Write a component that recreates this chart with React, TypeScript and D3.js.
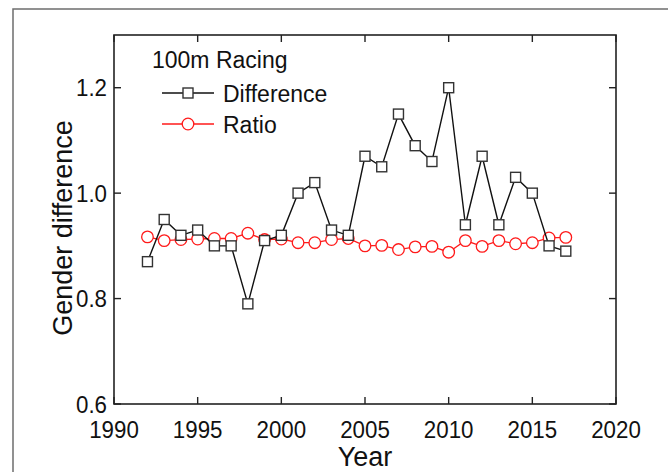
import React from "react";
import * as d3 from "d3";

const years = [1992,1993,1994,1995,1996,1997,1998,1999,2000,2001,2002,2003,2004,2005,2006,2007,2008,2009,2010,2011,2012,2013,2014,2015,2016,2017];
const difference = [0.87,0.95,0.92,0.93,0.90,0.90,0.79,0.91,0.92,1.00,1.02,0.93,0.92,1.07,1.05,1.15,1.09,1.06,1.20,0.94,1.07,0.94,1.03,1.00,0.90,0.89];
const ratio = [0.917,0.910,0.912,0.913,0.914,0.914,0.924,0.912,0.913,0.906,0.906,0.912,0.914,0.900,0.901,0.893,0.898,0.899,0.888,0.910,0.899,0.910,0.904,0.906,0.915,0.916];
const xTicks = [1990,1995,2000,2005,2010,2015,2020];
const yTicks = [0.6,0.8,1.0,1.2];
const legendTitle = "100m Racing";
const seriesNames = ["Difference","Ratio"];

export default function App() {
  const W = 668, H = 472;
  const left = 114, right = 616, top = 35, bottom = 404;
  const x = d3.scaleLinear().domain([1990, 2020]).range([left, right]);
  const y = d3.scaleLinear().domain([0.6, 1.3]).range([bottom, top]);
  const line = d3.line<[number, number]>().x(d => x(d[0])).y(d => y(d[1]));
  const diffPts: [number, number][] = years.map((yr, i) => [yr, difference[i]]);
  const ratioPts: [number, number][] = years.map((yr, i) => [yr, ratio[i]]);
  const font = "'Liberation Sans', Arial, sans-serif";
  const axisColor = "#222";
  const tl = 7;
  const sq = 10;
  const cr = 5.8;
  const sx = 0.93;
  return (
    <svg width={W} height={H} style={{ position: "absolute", left: 0, top: 0, background: "#fff" }} fontFamily={font}>
      <rect x={0} y={0} width={W} height={H} fill="#fff" />
      <rect x={13} y={9} width={W + 20} height={H + 20} fill="none" stroke="#6e6e6e" strokeWidth={1.5} />
      {/* data */}
      <path d={line(ratioPts) || ""} fill="none" stroke="#ff1a1a" strokeWidth={1.3} />
      {ratioPts.map((p, i) => (
        <circle key={"r" + i} cx={x(p[0])} cy={y(p[1])} r={cr} fill="#fff" stroke="#ff1a1a" strokeWidth={1.3} />
      ))}
      <path d={line(diffPts) || ""} fill="none" stroke="#111" strokeWidth={1.4} />
      {diffPts.map((p, i) => (
        <rect key={"d" + i} x={x(p[0]) - sq / 2} y={y(p[1]) - sq / 2} width={sq} height={sq} fill="#fff" stroke="#333" strokeWidth={1.4} />
      ))}
      {/* frame */}
      <rect x={left} y={top} width={right - left} height={bottom - top} fill="none" stroke={axisColor} strokeWidth={1.6} />
      {xTicks.map(t => (
        <g key={"x" + t}>
          <line x1={x(t)} x2={x(t)} y1={bottom} y2={bottom - tl} stroke={axisColor} strokeWidth={1.4} />
          <line x1={x(t)} x2={x(t)} y1={top} y2={top + tl} stroke={axisColor} strokeWidth={1.4} />
          <text transform={`translate(${x(t)}, 438) scale(${sx}, 1)`} textAnchor="middle" fontSize={24} fill="#111">{t}</text>
        </g>
      ))}
      {yTicks.map(t => (
        <g key={"y" + t}>
          <line x1={left} x2={left + tl} y1={y(t)} y2={y(t)} stroke={axisColor} strokeWidth={1.4} />
          <line x1={right} x2={right - tl} y1={y(t)} y2={y(t)} stroke={axisColor} strokeWidth={1.4} />
          <text transform={`translate(107, ${y(t) + 8.5}) scale(${sx}, 1)`} textAnchor="end" fontSize={24} fill="#111">{t.toFixed(1)}</text>
        </g>
      ))}
      <text x={(left + right) / 2} y={466} textAnchor="middle" fontSize={27} fill="#111">Year</text>
      <text transform={`translate(72, 228) rotate(-90)`} textAnchor="middle" fontSize={27} fill="#111">Gender difference</text>
      {/* legend */}
      <text x={152} y={68} fontSize={23} fill="#111">{legendTitle}</text>
      <line x1={162} x2={214} y1={93} y2={93} stroke="#111" strokeWidth={1.4} />
      <rect x={188 - sq / 2} y={93 - sq / 2} width={sq} height={sq} fill="#fff" stroke="#333" strokeWidth={1.4} />
      <text x={223} y={101.5} fontSize={23} fill="#111">{seriesNames[0]}</text>
      <line x1={162} x2={214} y1={124} y2={124} stroke="#ff1a1a" strokeWidth={1.3} />
      <circle cx={188} cy={124} r={cr} fill="#fff" stroke="#ff1a1a" strokeWidth={1.3} />
      <text x={223} y={132.5} fontSize={23} fill="#111">{seriesNames[1]}</text>
    </svg>
  );
}
